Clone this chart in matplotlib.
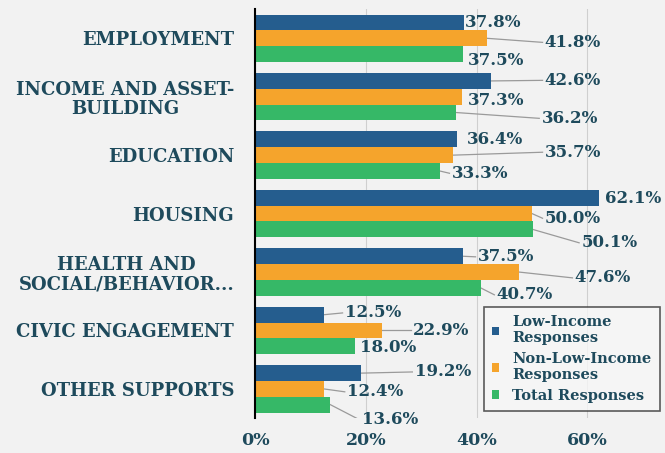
import numpy as np
import matplotlib.pyplot as plt
from matplotlib.patches import Patch

categories = ["EMPLOYMENT", "INCOME AND ASSET-\nBUILDING", "EDUCATION", "HOUSING",
              "HEALTH AND\nSOCIAL/BEHAVIOR...", "CIVIC ENGAGEMENT", "OTHER SUPPORTS"]
low_income = [37.8, 42.6, 36.4, 62.1, 37.5, 12.5, 19.2]
non_low_income = [41.8, 37.3, 35.7, 50.0, 47.6, 22.9, 12.4]
total = [37.5, 36.2, 33.3, 50.1, 40.7, 18.0, 13.6]
series_names = ["Low-Income\nResponses", "Non-Low-Income\nResponses", "Total Responses"]
xticks = [0, 20, 40, 60]

# label placement (x in %, y offset from group centre)
label_x = [
    [37.8, 52.3, 38.2, 63.2, 40.2, 16.2, 28.8],
    [52.3, 38.4, 52.3, 52.3, 57.7, 28.5, 16.6],
    [38.4, 51.7, 35.5, 58.9, 43.6, 18.9, 19.3],
]
label_dy = [
    [-0.27, -0.28, -0.26, -0.26, -0.26, -0.30, -0.29],
    [0.07, 0.06, -0.05, 0.08, 0.10, 0.00, 0.05],
    [0.38, 0.37, 0.31, 0.50, 0.39, 0.30, 0.53],
]

colors = ["#255d8e", "#f5a42c", "#36b867"]
txt_color = "#1e4a5c"
bg = "#f2f2f2"
font = "DejaVu Serif"

fig = plt.figure(figsize=(6.65, 4.53), dpi=100, facecolor=bg)
ax = fig.add_axes([0.3835, 0.077, 0.6165, 0.903], facecolor=bg)

y = np.arange(len(categories))
h = 0.27
all_series = [low_income, non_low_income, total]
for i, vals in enumerate(all_series):
    off = (i - 1) * h
    ax.barh(y + off, vals, height=h, color=colors[i], zorder=3)
    for j, v in enumerate(vals):
        lx = label_x[i][j]
        ly = y[j] + label_dy[i][j]
        if lx - v > 2:
            ax.plot([v, lx - 0.4], [y[j] + off, ly], color="#9a9a9a", lw=0.9, zorder=2)
        ax.text(lx, ly, f"{v:.1f}%", ha="left", va="center", fontsize=12,
                fontweight="bold", family=font, color=txt_color, zorder=4)

ax.set_xlim(0, 74)
ax.set_ylim(len(categories) - 0.5, -0.5)
ax.set_xticks(xticks)
ax.set_xticklabels([f"{t}%" for t in xticks], fontsize=12.5, fontweight="bold",
                   family=font, color=txt_color)
ax.set_yticks(y)
ax.set_yticklabels(categories, fontsize=13, fontweight="bold", family=font,
                   color=txt_color, multialignment="center", linespacing=1.1)
ax.tick_params(length=0, pad=15)
ax.tick_params(axis="x", pad=10)
ax.grid(axis="x", color="#cfcfcf", lw=0.8, zorder=0)
for s in ["top", "right", "bottom"]:
    ax.spines[s].set_visible(False)
ax.spines["left"].set_color("black")
ax.spines["left"].set_linewidth(1.5)
ax.spines["left"].set_zorder(5)

handles = [Patch(facecolor=c, edgecolor="none") for c in colors]
leg = ax.legend(handles, series_names, loc="lower right", bbox_to_anchor=(1.005, 0.0),
                prop={"family": font, "weight": "bold", "size": 10.5},
                labelcolor=txt_color, frameon=True, fancybox=False,
                handlelength=0.5, handleheight=0.5, handletextpad=0.9,
                labelspacing=0.45, borderpad=0.55)
leg.get_frame().set_edgecolor("#333333")
leg.get_frame().set_linewidth(1.2)
leg.get_frame().set_facecolor("#f7f7f7")
leg.set_zorder(6)

fig.savefig("out.png", dpi=100, facecolor=bg)
